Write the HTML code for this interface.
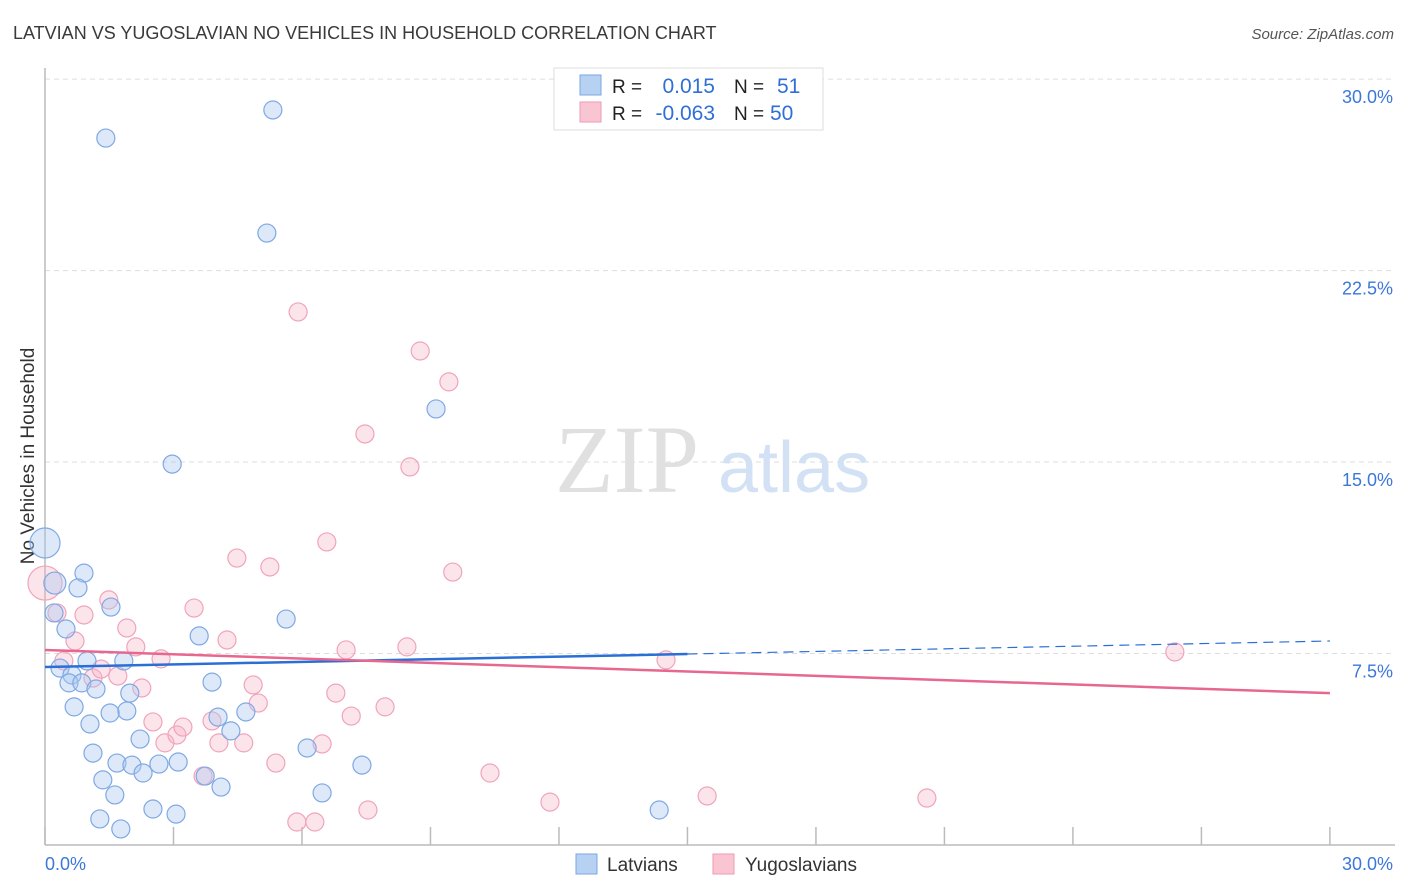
<!DOCTYPE html>
<html><head><meta charset="utf-8"><style>
body{margin:0;background:#fff;font-family:"Liberation Sans",sans-serif;}
#wrap{position:relative;width:1406px;height:892px;overflow:hidden;}
</style></head><body>
<div id="wrap">
<svg id="svg" width="1406" height="892" xmlns="http://www.w3.org/2000/svg">
<text x="13" y="39" font-size="18" fill="#3a3a3a">LATVIAN VS YUGOSLAVIAN NO VEHICLES IN HOUSEHOLD CORRELATION CHART</text>
<text x="1394" y="39" font-size="15" fill="#555" font-style="italic" text-anchor="end">Source: ZipAtlas.com</text>
<text x="0" y="0" transform="translate(34,456) rotate(-90)" font-size="19" fill="#333" text-anchor="middle">No Vehicles in Household</text>
<g id="grid"></g>
<text x="555" y="492" font-size="96" fill="#e0e0e0" font-family="Liberation Serif,serif">ZIP</text>
<text x="718" y="492" font-size="72" fill="#d3e1f4">atlas</text>
<g id="pts"></g>
<g id="trend"></g>
<g>
<rect x="554" y="68" width="269" height="62" fill="#fff" stroke="#ddd"/>
<rect x="580" y="75" width="21" height="20" fill="#b7d1f3" stroke="#7aa8e6"/>
<rect x="580" y="102" width="21" height="20" fill="#f9c5d3" stroke="#ef9ab4"/>
<text x="612" y="93" font-size="19" fill="#222">R = </text><text x="715" y="93" font-size="21" fill="#2f6fd6" text-anchor="end">0.015</text>
<text x="734" y="93" font-size="19" fill="#222">N = </text><text x="777" y="93" font-size="21" fill="#2f6fd6">51</text>
<text x="612" y="120" font-size="19" fill="#222">R = </text><text x="715" y="120" font-size="21" fill="#2f6fd6" text-anchor="end">-0.063</text>
<text x="734" y="120" font-size="19" fill="#222">N = </text><text x="770" y="120" font-size="21" fill="#2f6fd6">50</text>
</g>
<g>
<rect x="576" y="854" width="21" height="20" fill="#b7d1f3" stroke="#7aa8e6"/>
<text x="607" y="871" font-size="19" fill="#333">Latvians</text>
<rect x="713" y="854" width="21" height="20" fill="#f9c5d3" stroke="#ef9ab4"/>
<text x="745" y="871" font-size="19" fill="#333">Yugoslavians</text>
</g>
</svg>
</div>
<script>
const yTicks=[7.5,15,22.5,30];
const yTickLabels=["7.5%","15.0%","22.5%","30.0%"];
const xTicks=[0,3,6,9,12,15,18,21,24,27,30];
const latX=[0,0.23,0.91,0.77,0.21,1.54,0.49,0.35,0.98,1.84,0.63,0.56,0.86,1.19,1.98,0.68,1.91,1.52,1.05,2.22,1.12,1.68,2.03,2.29,2.66,3.11,1.35,1.63,2.52,3.06,1.28,1.77,3.60,3.90,4.04,4.34,4.69,3.74,4.11,2.97,1.42,5.32,5.18,5.63,6.12,6.47,7.40,9.13,14.34];
const latY=[11.83,10.26,10.65,10.07,9.09,9.32,8.46,6.93,7.21,7.21,6.66,6.35,6.35,6.11,5.95,5.41,5.25,5.17,4.74,4.15,3.60,3.21,3.13,2.82,3.17,3.25,2.55,1.96,1.41,1.21,1.02,0.63,8.19,6.38,5.01,4.47,5.21,2.70,2.27,14.92,27.69,28.79,23.97,8.85,3.80,2.04,3.13,17.08,1.37];
const yugX=[0,0.28,0.44,0.70,0.91,1.49,1.12,1.31,1.70,1.91,2.12,2.26,2.71,2.52,2.80,3.08,3.22,3.48,3.90,4.06,4.25,4.64,4.86,4.98,3.69,4.48,5.25,5.39,5.91,5.88,6.30,6.47,6.58,6.79,7.03,7.15,7.47,7.54,7.94,8.45,8.52,8.76,9.43,9.52,10.39,11.79,14.50,15.46,20.59,26.38];
const yugY=[10.26,9.09,7.21,7.99,9.01,9.60,6.54,6.89,6.62,8.50,7.76,6.15,7.29,4.82,4.00,4.31,4.62,9.28,4.86,4.00,8.03,4.00,6.27,5.56,2.70,11.24,10.89,3.21,20.88,0.90,0.90,3.96,11.87,5.95,7.64,5.05,16.10,1.37,5.41,7.76,14.81,19.35,18.14,10.69,2.82,1.68,7.25,1.92,1.84,7.56];
const latTrend=[6.97,7.99]; // value at x=0 and x=30
const yugTrend=[7.64,5.95];
const latTrendSolidEnd=15;
const NS="http://www.w3.org/2000/svg";
const sx=v=>45+v*42.83, sy=v=>845-v*25.53;
function mk(t,a,p){const e=document.createElementNS(NS,t);for(const k in a)e.setAttribute(k,a[k]);p.appendChild(e);return e;}
const grid=document.getElementById('grid');
yTicks.forEach((t,i)=>{
  const l=mk('line',{x1:45,x2:1395,y1:sy(t),y2:sy(t),stroke:'#ddd','stroke-dasharray':'5,4'},grid);
  
  
  const tx=mk('text',{x:1393,y:sy(t)+24,'font-size':18,fill:'#3b78d8','text-anchor':'end'},grid);
  tx.textContent=yTickLabels[i];
  
  
});
const ax=mk('line',{x1:45,x2:45,y1:68,y2:845,stroke:'#bbb','stroke-width':1.5},grid);


const bx=mk('line',{x1:45,x2:1395,y1:845,y2:845,stroke:'#bbb','stroke-width':1.5},grid);


xTicks.forEach(t=>{const l=mk('line',{x1:sx(t),x2:sx(t),y1:827,y2:845,stroke:'#bbb','stroke-width':1.5},grid);
  
  });
[[0,'0.0%',45,'start'],[30,'30.0%',1393,'end']].forEach(d=>{const t=mk('text',{x:d[2],y:870,'font-size':18,fill:'#3b78d8','text-anchor':d[3]},grid);t.textContent=d[1];
  
  });
const pts=document.getElementById('pts');
yugX.forEach((x,i)=>{const c=mk('circle',{cx:sx(x),cy:sy(yugY[i]),r:i==0?17:9,fill:'#f7b3c6','fill-opacity':0.35,stroke:'#f0a4bb','stroke-width':1.2},pts);
  
  });
latX.forEach((x,i)=>{const c=mk('circle',{cx:sx(x),cy:sy(latY[i]),r:i==0?15:(i==1?11:9),fill:'#a9c8f0','fill-opacity':0.4,stroke:'#7fa8e4','stroke-width':1.2},pts);
  
  });
const tr=document.getElementById('trend');
const lv=x=>latTrend[0]+(latTrend[1]-latTrend[0])*x/30;
const t1=mk('line',{x1:sx(0),y1:sy(lv(0)),x2:sx(latTrendSolidEnd),y2:sy(lv(latTrendSolidEnd)),stroke:'#2a6fd6','stroke-width':2.5},tr);


const t2=mk('line',{x1:sx(latTrendSolidEnd),y1:sy(lv(latTrendSolidEnd)),x2:sx(30),y2:sy(lv(30)),stroke:'#2a6fd6','stroke-width':1.2,'stroke-dasharray':'10,6'},tr);


const t3=mk('line',{x1:sx(0),y1:sy(yugTrend[0]),x2:sx(30),y2:sy(yugTrend[1]),stroke:'#e8678f','stroke-width':2.5},tr);


</script>
</body></html>
